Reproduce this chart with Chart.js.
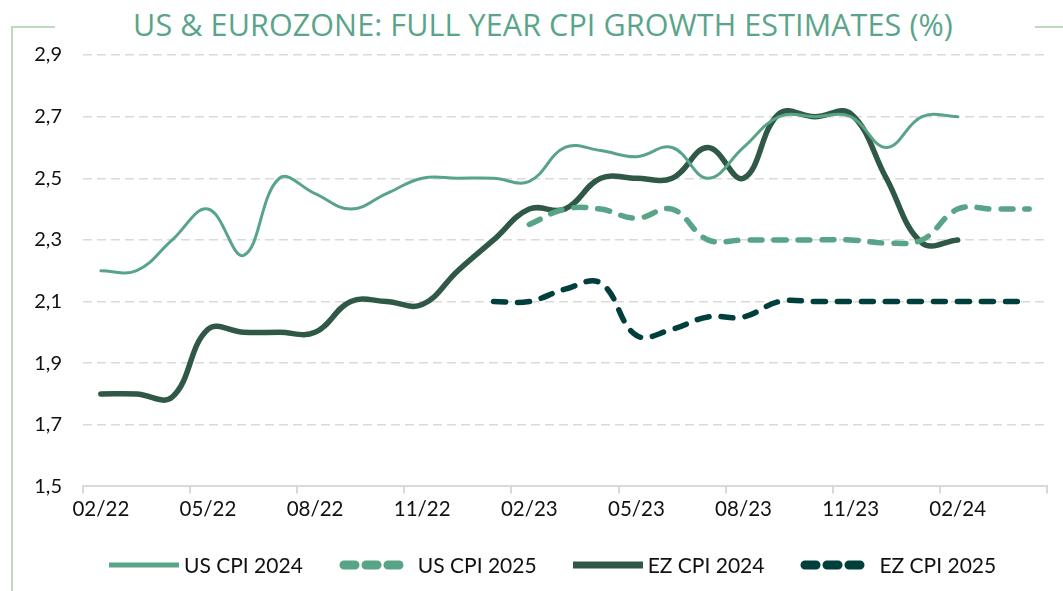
<!DOCTYPE html>
<html>
<head>
<meta charset="utf-8">
<script src="https://cdn.jsdelivr.net/npm/chart.js@4"></script>
<style>
    html, body { margin: 0; padding: 0; background: #fff; }
    body { width: 1063px; height: 591px; position: relative; overflow: hidden; font-family: Lato, sans-serif; }
    #chartWrap { position: absolute; left: 0; top: 0; width: 1063px; height: 591px; }
    .frame-v { position: absolute; left: 11px; top: 26px; width: 2px; height: 565px; background: #bfd9bf; }
    .frame-h { position: absolute; top: 26px; height: 2px; background: #bfd9bf; }
    #title {
        position: absolute; left: 0; width: 1086px; top: 3px; text-align: center;
        font-family: "Liberation Sans Narrow", "Open Sans", sans-serif;
        font-size: 30.5px; color: #5aa58a; letter-spacing: 0.1px;
    }
    #legend { position: absolute; left: 109px; top: 552px; display: flex; align-items: center; font-size: 21px; color: #111; }
    .legend-item { display: flex; align-items: center; margin-right: 36px; }
</style>
</head>
<body>
<div class="frame-v"></div>
<div class="frame-h" style="left:11px;width:44px"></div>
<div class="frame-h" style="left:1035px;width:28px"></div>
<div id="title">US &amp; EUROZONE: FULL YEAR CPI GROWTH ESTIMATES (%)</div>
<div id="chartWrap"><canvas id="cpiChart"></canvas></div>
<div id="legend"></div>
<script>
// Months on the axis (02/22 .. 04/24)
const MONTHS = ['02/22', '03/22', '04/22', '05/22', '06/22', '07/22', '08/22', '09/22', '10/22', '11/22', '12/22', '01/23',
                '02/23', '03/23', '04/23', '05/23', '06/23', '07/23', '08/23', '09/23', '10/23', '11/23', '12/23', '01/24',
                '02/24', '03/24', '04/24'];

const US_CPI_2024 = [2.20, 2.20, 2.30, 2.40, 2.25, 2.50, 2.45, 2.40, 2.45, 2.50, 2.50, 2.50,
                     2.49, 2.60, 2.59, 2.57, 2.60, 2.50, 2.60, 2.70, 2.70, 2.70, 2.60, 2.70,
                     2.70, null, null];
const US_CPI_2025 = [null, null, null, null, null, null, null, null, null, null, null, null,
                     2.35, 2.40, 2.40, 2.37, 2.40, 2.30, 2.30, 2.30, 2.30, 2.30, 2.29, 2.30,
                     2.40, 2.40, 2.40];
const EZ_CPI_2024 = [1.80, 1.80, 1.79, 2.01, 2.00, 2.00, 2.00, 2.10, 2.10, 2.09, 2.20, 2.30,
                     2.40, 2.40, 2.50, 2.50, 2.50, 2.60, 2.50, 2.71, 2.70, 2.71, 2.50, 2.29,
                     2.30, null, null];
const EZ_CPI_2025 = [null, null, null, null, null, null, null, null, null, null, null, 2.10,
                     2.10, 2.14, 2.16, 1.99, 2.01, 2.05, 2.05, 2.10, 2.10, 2.10, 2.10, 2.10,
                     2.10, 2.10, 2.10];

const Y_MIN = 1.5, Y_MAX = 2.9, Y_STEP = 0.2;

const SERIES = [
    { label: 'US CPI 2024', data: US_CPI_2024, color: '#58a487', width: 3, dash: [] },
    { label: 'US CPI 2025', data: US_CPI_2025, color: '#58a487', width: 5.5, dash: [12, 12] },
    { label: 'EZ CPI 2024', data: EZ_CPI_2024, color: '#2f5846', width: 5.5, dash: [] },
    { label: 'EZ CPI 2025', data: EZ_CPI_2025, color: '#003f3b', width: 5.5, dash: [12, 12] }
];

const datasets = SERIES.map(s => ({
    label: s.label,
    data: s.data,
    borderColor: s.color,
    backgroundColor: s.color,
    borderWidth: s.width,
    borderDash: s.dash,
    borderCapStyle: 'round',
    borderJoinStyle: 'round',
    pointRadius: 0,
    tension: 0.4,
    spanGaps: false
}));

const ctx = document.getElementById('cpiChart').getContext('2d');
new Chart(ctx, {
    type: 'line',
    data: { labels: MONTHS, datasets },
    options: {
        responsive: true,
        maintainAspectRatio: false,
        animation: false,
        layout: { padding: { left: 0, right: 16, top: 55, bottom: 65 } },
        plugins: { legend: { display: false }, tooltip: { enabled: false } },
        scales: {
            x: {
                offset: true,
                border: { color: '#d9d9d9', width: 2 },
                grid: {
                    offset: true,
                    drawOnChartArea: false,
                    drawTicks: true,
                    tickLength: 7,
                    lineWidth: 2,
                    color: c => (c.index === undefined || c.index % 3 === 0) ? '#d9d9d9' : 'rgba(0,0,0,0)'
                },
                ticks: {
                    autoSkip: false,
                    maxRotation: 0,
                    padding: 4,
                    color: '#111',
                    font: { family: 'Lato', size: 20.5 },
                    callback: (v, i) => i % 3 === 0 ? MONTHS[i] : ''
                }
            },
            y: {
                min: Y_MIN,
                max: Y_MAX,
                afterFit: scale => { scale.width = 83; },
                border: { display: false, dash: [9, 5] },
                grid: {
                    drawTicks: false,
                    lineWidth: 1.5,
                    color: c => Math.abs(c.tick.value - Y_MIN) < 1e-6 ? 'rgba(0,0,0,0)' : '#dadada'
                },
                ticks: {
                    stepSize: Y_STEP,
                    padding: 21,
                    color: '#111',
                    font: { family: 'Lato', size: 20 },
                    callback: v => v.toFixed(1).replace('.', ',')
                }
            }
        }
    }
});

// Legend
const legend = document.getElementById('legend');
SERIES.forEach(s => {
    const item = document.createElement('div');
    item.className = 'legend-item';
    const dashed = s.dash.length > 0;
    const w = dashed ? 66 : 70;
    const dashAttr = dashed ? 'stroke-dasharray="11 11" stroke-linecap="round"' : 'stroke-linecap="butt"';
    const x1 = dashed ? 5 : 0, x2 = dashed ? w - 5 : w;
    item.innerHTML = `<svg width="${w}" height="12"><line x1="${x1}" y1="6" x2="${x2}" y2="6" stroke="${s.color}" stroke-width="${dashed ? 9 : (s.width > 4 ? 7 : 5)}" ${dashAttr}/></svg><span>${s.label}</span>`;
    item.querySelector('svg').style.marginRight = dashed ? '13px' : '5px';
    legend.appendChild(item);
});
</script>
</body>
</html>
